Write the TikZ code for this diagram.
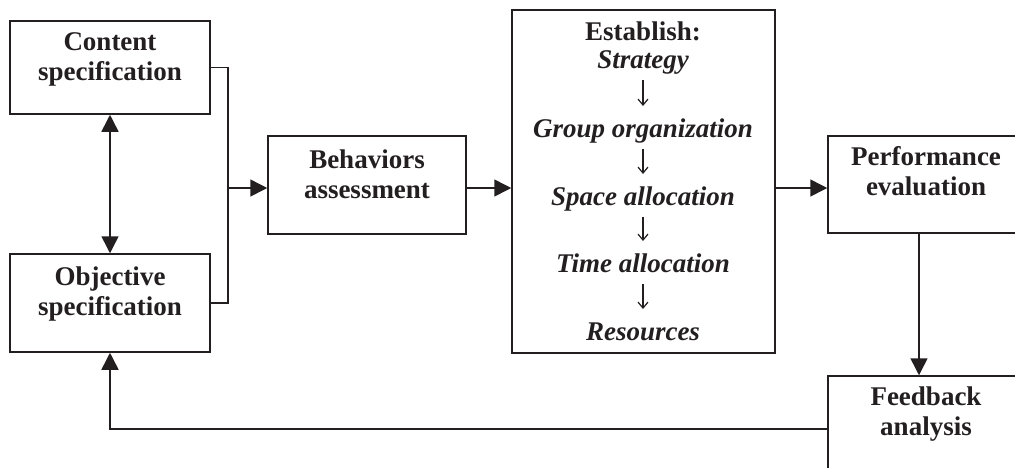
\documentclass[tikz,border=0pt]{standalone}
\usepackage{fontspec}
\setmainfont{Liberation Serif}
\usetikzlibrary{arrows.meta,calc}

\definecolor{ink}{RGB}{35,31,32}

\tikzset{
  every picture/.style={x=1pt,y=-1pt},
  box/.style={draw=ink,line width=1.5pt,rectangle,inner sep=0pt},
  lbl/.style={text=ink,inner sep=0pt,align=center,anchor=base,
              font=\fontsize{27}{30}\selectfont\bfseries},
  step lbl/.style={lbl,font=\fontsize{27}{30}\selectfont\bfseries\itshape},
  wire/.style={draw=ink,line width=1.5pt},
  arr/.style={wire,-{Triangle[length=17pt,width=17pt]}},
  twoway/.style={wire,{Triangle[length=17pt,width=17pt]}-{Triangle[length=17pt,width=17pt]}},
  thinarr/.style={draw=ink,line width=1.2pt,-{Straight Barb[length=6pt,width=10pt,line width=1.2pt]}}
}

\begin{document}
\begin{tikzpicture}
\useasboundingbox (0,0) rectangle (1015,467);
\clip (0,0) rectangle (1015,467);

% boxes
\node[box,minimum width=200pt,minimum height=93pt]  (content)   at (110,67.5)   {};
\node[box,minimum width=200pt,minimum height=98pt]  (objective) at (110,303)    {};
\node[box,minimum width=198pt,minimum height=98pt]  (behav)     at (367,185)    {};
\node[box,minimum width=263pt,minimum height=343pt] (establish) at (643.5,181.5) {};
\node[box,minimum width=196pt,minimum height=97pt]  (perf)      at (926,184.5)  {};
\node[box,minimum width=196pt,minimum height=100pt] (feed)      at (926,426)    {};

% box labels (anchored on the baseline of the second line)
\node[lbl] (contentT)   at (110,80)  {Content\\specification};
\node[lbl] (objectiveT) at (110,315) {Objective\\specification};
\node[lbl] (behavT)     at (367,198) {Behaviors\\assessment};
\node[lbl] (perfT)      at (926,195) {Performance\\evaluation};
\node[lbl] (feedT)      at (926,435) {Feedback\\analysis};

% steps inside the establish box
\node[lbl]      (estT)  at (643,40)  {Establish:};
\node[step lbl] (s1)    at (643,68)  {Strategy};
\node[step lbl] (s2)    at (643,137) {Group organization};
\node[step lbl] (s3)    at (643,205) {Space allocation};
\node[step lbl] (s4)    at (643,272) {Time allocation};
\node[step lbl] (s5)    at (643,340) {Resources};

\foreach \a/\b in {s1/s2,s2/s3,s3/s4,s4/s5}
  \draw[thinarr] ($(\a.base)+(0,12)$) -- ($(\b.base)+(0,-31)$);

% connectors
\coordinate (j)  at (228,188);
\coordinate (pf) at (919,0);
\coordinate (fb) at ($(feed.west)+(0,3)$);

\draw[twoway] (content.south) -- (objective.north);
\draw[wire] (content.east) -| (j);
\draw[wire] (objective.east) -| (j);
\draw[arr] (j) -- (j -| behav.west);
\draw[arr] (behav.east |- j) -- (establish.west |- j);
\draw[arr] (establish.east |- j) -- (perf.west |- j);
\draw[arr] (perf.south -| pf) -- (feed.north -| pf);
\draw[arr] (fb) -| (objective.south);
\end{tikzpicture}
\end{document}
